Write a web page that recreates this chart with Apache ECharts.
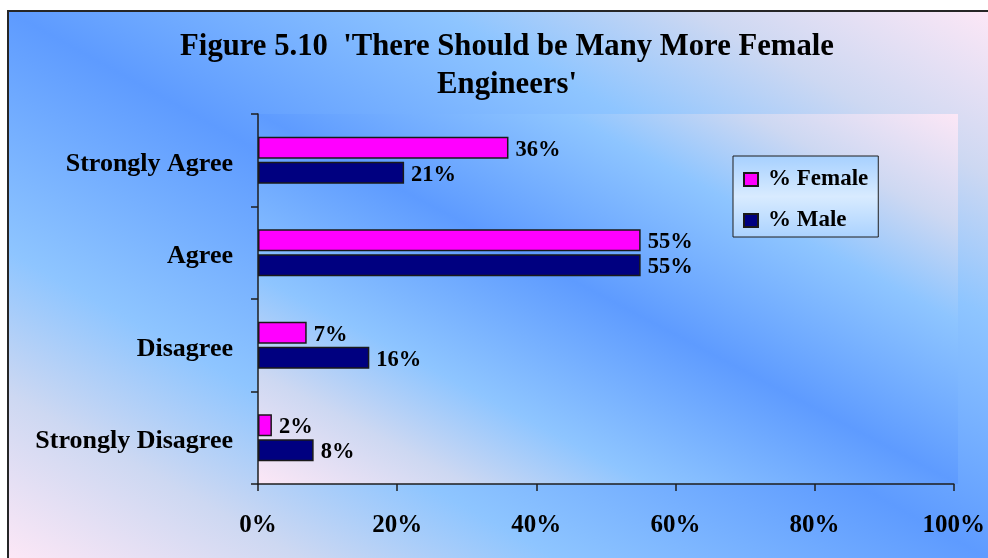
<!DOCTYPE html>
<html>
<head>
<meta charset="utf-8">
<script src="https://cdn.jsdelivr.net/npm/echarts@6/dist/echarts.min.js"></script>
<style>html,body{margin:0;padding:0;background:#fff;}#chart{width:988px;height:558px;}</style>
</head>
<body>
<div id="chart"></div>
<script>
const categories = ['Strongly Disagree', 'Disagree', 'Agree', 'Strongly Agree'];
const femaleValues = [2, 7, 55, 36];
const maleValues = [8, 16, 55, 21];
const seriesNames = ['% Female', '% Male'];
const xTicks = { min: 0, max: 100, interval: 20 };
const titleText = "Figure 5.10  'There Should be Many More Female\nEngineers'";

const FONT = '"Liberation Serif", "Times New Roman", serif';

function diagGradient() {
  return {
    type: 'linear', x: 0, y: 1, x2: 1, y2: 0,
    colorStops: [
      { offset: 0, color: '#fce7f6' },
      { offset: 0.15, color: '#cdd8f2' },
      { offset: 0.28, color: '#8ec5ff' },
      { offset: 0.5, color: '#5e9bff' },
      { offset: 0.72, color: '#8ec5ff' },
      { offset: 0.85, color: '#cdd8f2' },
      { offset: 1, color: '#fce7f6' }
    ]
  };
}

function bgRect(x, y, w, h, z) {
  return {
    type: 'rect', x: x, y: y, scaleX: w / 1000, scaleY: h / 1000,
    shape: { x: 0, y: 0, width: 1000, height: 1000 },
    style: { fill: diagGradient() }, z: z, silent: true
  };
}

const chart = echarts.init(document.getElementById('chart'), null, { renderer: 'canvas' });
const labelStyle = { show: true, position: 'right', distance: 7, formatter: '{c}%', offset: [0, 2],
  color: '#000', fontFamily: FONT, fontWeight: 'bold', fontSize: 22.5 };

chart.setOption({
  animation: false,
  backgroundColor: '#ffffff',
  graphic: [
    bgRect(8, 11, 980, 547, -20),
    bgRect(258, 114, 700, 370, -19),
    { type: 'rect', shape: { x: 8, y: 11, width: 990, height: 560 },
      style: { fill: 'none', stroke: '#262626', lineWidth: 2 }, z: -18, silent: true }
  ],
  title: {
    text: titleText,
    left: 507, top: 28, textAlign: 'center', padding: 0,
    textStyle: { fontFamily: FONT, fontWeight: 'bold', fontSize: 30.7, lineHeight: 38, color: '#000' }
  },
  legend: {
    data: seriesNames,
    orient: 'vertical', left: 733, top: 156,
    padding: [12, 10, 5, 10], itemGap: 18,
    itemWidth: 14, itemHeight: 13, icon: 'rect',
    borderColor: '#1e1e1e', borderWidth: 1,
    backgroundColor: { type: 'linear', x: 0, y: 0, x2: 0, y2: 1,
      colorStops: [ { offset: 0, color: '#a6d0ff' }, { offset: 0.5, color: '#d8ebff' }, { offset: 1, color: '#aad2ff' } ] },
    textStyle: { fontFamily: FONT, fontWeight: 'bold', fontSize: 23, color: '#000', padding: [3, 0, 0, 5] }
  },
  grid: { left: 258, top: 114, right: 30, bottom: 74, containLabel: false },
  xAxis: {
    type: 'value', min: xTicks.min, max: xTicks.max, interval: xTicks.interval,
    axisLine: { show: true, lineStyle: { color: '#1e1e1e', width: 1.5 } },
    axisTick: { show: true, length: 7, lineStyle: { color: '#1e1e1e', width: 1.5 } },
    splitLine: { show: false },
    axisLabel: { formatter: '{value}%', margin: 29, color: '#000', fontFamily: FONT, fontWeight: 'bold', fontSize: 25 }
  },
  yAxis: {
    type: 'category', data: categories,
    axisLine: { show: true, lineStyle: { color: '#1e1e1e', width: 1.5 } },
    axisTick: { show: true, length: 7, lineStyle: { color: '#1e1e1e', width: 1.5 } },
    axisLabel: { margin: 25, formatter: '{c|{value}}',
      rich: { c: { color: '#000', fontFamily: FONT, fontWeight: 'bold', fontSize: 26, padding: [8, 0, 0, 0] } } }
  },
  series: [
    { name: seriesNames[0], type: 'bar', data: femaleValues, barWidth: 22, barGap: '14%',
      itemStyle: { color: '#ff00ff', borderColor: '#1a1a1a', borderWidth: 1.5 }, label: labelStyle },
    { name: seriesNames[1], type: 'bar', data: maleValues, barWidth: 22, barGap: '14%',
      itemStyle: { color: '#000080', borderColor: '#1a1a1a', borderWidth: 1.5 }, label: labelStyle }
  ]
});
</script>
</body>
</html>
